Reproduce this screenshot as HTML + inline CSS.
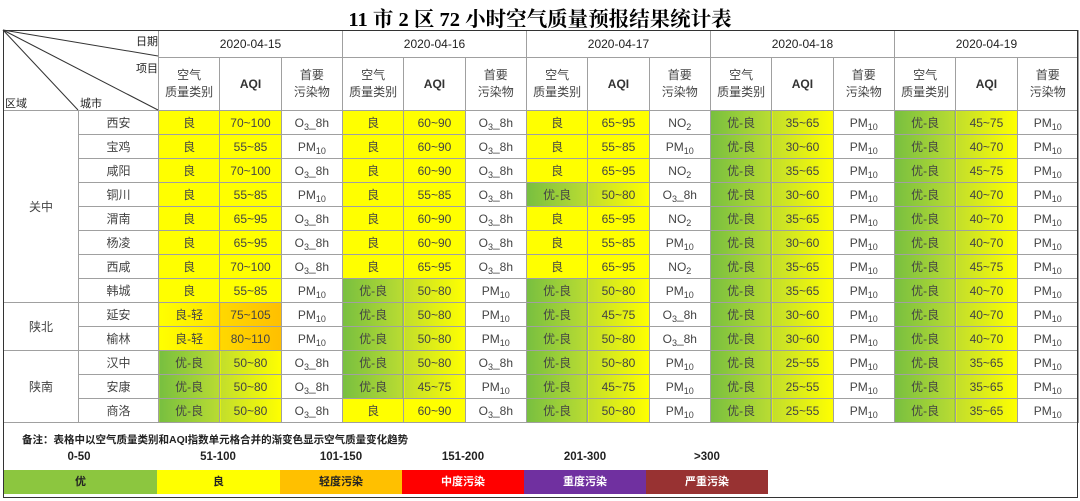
<!DOCTYPE html>
<html><head><meta charset="utf-8"><style>
body{margin:0;width:1080px;height:501px;background:#fff;position:relative;overflow:hidden;font-family:"Liberation Sans","Noto Sans CJK SC",sans-serif;}
.title{position:absolute;left:0;width:1080px;top:2px;text-align:center;font:bold 20.5px "Liberation Serif","Noto Serif CJK SC",serif;color:#000;}
table{position:absolute;left:3px;top:30px;border-collapse:collapse;table-layout:fixed;width:1075px;}
td{border:1px solid #a0a0a0;text-align:center;font-size:12px;color:#444;padding:0;overflow:hidden;white-space:nowrap;}
tr.d td{height:23px;}
.h1 td{height:26px;font-size:12px;color:#222;}
.h2 td{height:52px;font-size:12px;line-height:17px;color:#444;}
.h2 td.aq{font-size:12px;font-weight:bold;color:#333}
.y{background:#ffff00;}
.g1{background:linear-gradient(90deg,#78bf40,#b9dc32);}
.g2{background:linear-gradient(90deg,#c2de2c,#ffff00);}
.o1{background:linear-gradient(90deg,#ffff00,#ffe400);}
.o2{background:linear-gradient(90deg,#ffd800,#ffbf00);}
sub{font-size:9px;vertical-align:-3px;line-height:0;}
.note{position:absolute;left:22px;top:432px;font-size:10.5px;font-weight:bold;color:#222;}
.lab{position:absolute;top:451px;font-size:11.5px;font-weight:bold;color:#222;text-align:center;width:122px;}
.leg{position:absolute;top:470px;height:24px;line-height:24px;text-align:center;font-size:11px;font-weight:bold;}
</style></head><body>
<div class="title">11 市 2 区 72 小时空气质量预报结果统计表</div>
<table>
<colgroup><col style="width:75px"><col style="width:80px"><col span="15" style="width:61.33px"></colgroup>
<tr class="h1"><td colspan="2" rowspan="2" style="position:relative;border-bottom:1px solid #a0a0a0"></td><td colspan="3">2020-04-15</td><td colspan="3">2020-04-16</td><td colspan="3">2020-04-17</td><td colspan="3">2020-04-18</td><td colspan="3">2020-04-19</td></tr>
<tr class="h2"><td>空气<br>质量类别</td><td class="aq">AQI</td><td>首要<br>污染物</td><td>空气<br>质量类别</td><td class="aq">AQI</td><td>首要<br>污染物</td><td>空气<br>质量类别</td><td class="aq">AQI</td><td>首要<br>污染物</td><td>空气<br>质量类别</td><td class="aq">AQI</td><td>首要<br>污染物</td><td>空气<br>质量类别</td><td class="aq">AQI</td><td>首要<br>污染物</td></tr>
<tr class="d"><td rowspan="8">关中</td><td>西安</td><td class="y">良</td><td class="y">70~100</td><td>O<sub>3</sub>_8h</td><td class="y">良</td><td class="y">60~90</td><td>O<sub>3</sub>_8h</td><td class="y">良</td><td class="y">65~95</td><td>NO<sub>2</sub></td><td class="g1">优-良</td><td class="g2">35~65</td><td>PM<sub>10</sub></td><td class="g1">优-良</td><td class="g2">45~75</td><td>PM<sub>10</sub></td></tr>
<tr class="d"><td>宝鸡</td><td class="y">良</td><td class="y">55~85</td><td>PM<sub>10</sub></td><td class="y">良</td><td class="y">60~90</td><td>O<sub>3</sub>_8h</td><td class="y">良</td><td class="y">55~85</td><td>PM<sub>10</sub></td><td class="g1">优-良</td><td class="g2">30~60</td><td>PM<sub>10</sub></td><td class="g1">优-良</td><td class="g2">40~70</td><td>PM<sub>10</sub></td></tr>
<tr class="d"><td>咸阳</td><td class="y">良</td><td class="y">70~100</td><td>O<sub>3</sub>_8h</td><td class="y">良</td><td class="y">60~90</td><td>O<sub>3</sub>_8h</td><td class="y">良</td><td class="y">65~95</td><td>NO<sub>2</sub></td><td class="g1">优-良</td><td class="g2">35~65</td><td>PM<sub>10</sub></td><td class="g1">优-良</td><td class="g2">45~75</td><td>PM<sub>10</sub></td></tr>
<tr class="d"><td>铜川</td><td class="y">良</td><td class="y">55~85</td><td>PM<sub>10</sub></td><td class="y">良</td><td class="y">55~85</td><td>O<sub>3</sub>_8h</td><td class="g1">优-良</td><td class="g2">50~80</td><td>O<sub>3</sub>_8h</td><td class="g1">优-良</td><td class="g2">30~60</td><td>PM<sub>10</sub></td><td class="g1">优-良</td><td class="g2">40~70</td><td>PM<sub>10</sub></td></tr>
<tr class="d"><td>渭南</td><td class="y">良</td><td class="y">65~95</td><td>O<sub>3</sub>_8h</td><td class="y">良</td><td class="y">60~90</td><td>O<sub>3</sub>_8h</td><td class="y">良</td><td class="y">65~95</td><td>NO<sub>2</sub></td><td class="g1">优-良</td><td class="g2">35~65</td><td>PM<sub>10</sub></td><td class="g1">优-良</td><td class="g2">40~70</td><td>PM<sub>10</sub></td></tr>
<tr class="d"><td>杨凌</td><td class="y">良</td><td class="y">65~95</td><td>O<sub>3</sub>_8h</td><td class="y">良</td><td class="y">60~90</td><td>O<sub>3</sub>_8h</td><td class="y">良</td><td class="y">55~85</td><td>PM<sub>10</sub></td><td class="g1">优-良</td><td class="g2">30~60</td><td>PM<sub>10</sub></td><td class="g1">优-良</td><td class="g2">40~70</td><td>PM<sub>10</sub></td></tr>
<tr class="d"><td>西咸</td><td class="y">良</td><td class="y">70~100</td><td>O<sub>3</sub>_8h</td><td class="y">良</td><td class="y">65~95</td><td>O<sub>3</sub>_8h</td><td class="y">良</td><td class="y">65~95</td><td>NO<sub>2</sub></td><td class="g1">优-良</td><td class="g2">35~65</td><td>PM<sub>10</sub></td><td class="g1">优-良</td><td class="g2">45~75</td><td>PM<sub>10</sub></td></tr>
<tr class="d"><td>韩城</td><td class="y">良</td><td class="y">55~85</td><td>PM<sub>10</sub></td><td class="g1">优-良</td><td class="g2">50~80</td><td>PM<sub>10</sub></td><td class="g1">优-良</td><td class="g2">50~80</td><td>PM<sub>10</sub></td><td class="g1">优-良</td><td class="g2">35~65</td><td>PM<sub>10</sub></td><td class="g1">优-良</td><td class="g2">40~70</td><td>PM<sub>10</sub></td></tr>
<tr class="d"><td rowspan="2">陕北</td><td>延安</td><td class="o1">良-轻</td><td class="o2">75~105</td><td>PM<sub>10</sub></td><td class="g1">优-良</td><td class="g2">50~80</td><td>PM<sub>10</sub></td><td class="g1">优-良</td><td class="g2">45~75</td><td>O<sub>3</sub>_8h</td><td class="g1">优-良</td><td class="g2">30~60</td><td>PM<sub>10</sub></td><td class="g1">优-良</td><td class="g2">40~70</td><td>PM<sub>10</sub></td></tr>
<tr class="d"><td>榆林</td><td class="o1">良-轻</td><td class="o2">80~110</td><td>PM<sub>10</sub></td><td class="g1">优-良</td><td class="g2">50~80</td><td>PM<sub>10</sub></td><td class="g1">优-良</td><td class="g2">50~80</td><td>O<sub>3</sub>_8h</td><td class="g1">优-良</td><td class="g2">30~60</td><td>PM<sub>10</sub></td><td class="g1">优-良</td><td class="g2">40~70</td><td>PM<sub>10</sub></td></tr>
<tr class="d"><td rowspan="3">陕南</td><td>汉中</td><td class="g1">优-良</td><td class="g2">50~80</td><td>O<sub>3</sub>_8h</td><td class="g1">优-良</td><td class="g2">50~80</td><td>O<sub>3</sub>_8h</td><td class="g1">优-良</td><td class="g2">50~80</td><td>PM<sub>10</sub></td><td class="g1">优-良</td><td class="g2">25~55</td><td>PM<sub>10</sub></td><td class="g1">优-良</td><td class="g2">35~65</td><td>PM<sub>10</sub></td></tr>
<tr class="d"><td>安康</td><td class="g1">优-良</td><td class="g2">50~80</td><td>O<sub>3</sub>_8h</td><td class="g1">优-良</td><td class="g2">45~75</td><td>PM<sub>10</sub></td><td class="g1">优-良</td><td class="g2">45~75</td><td>PM<sub>10</sub></td><td class="g1">优-良</td><td class="g2">25~55</td><td>PM<sub>10</sub></td><td class="g1">优-良</td><td class="g2">35~65</td><td>PM<sub>10</sub></td></tr>
<tr class="d"><td>商洛</td><td class="g1">优-良</td><td class="g2">50~80</td><td>O<sub>3</sub>_8h</td><td class="y">良</td><td class="y">60~90</td><td>O<sub>3</sub>_8h</td><td class="g1">优-良</td><td class="g2">50~80</td><td>PM<sub>10</sub></td><td class="g1">优-良</td><td class="g2">25~55</td><td>PM<sub>10</sub></td><td class="g1">优-良</td><td class="g2">35~65</td><td>PM<sub>10</sub></td></tr>
</table>
<svg style="position:absolute;left:0;top:0" width="1080" height="501">
<g stroke="#333" stroke-width="1" fill="none">
<line x1="3" y1="30" x2="158" y2="56"/>
<line x1="3" y1="30" x2="158" y2="110"/>
<line x1="3" y1="30" x2="78" y2="110"/>
<rect x="3.5" y="30.5" width="1074" height="467"/>
</g>
</svg>
<div style="position:absolute;left:136px;top:33px;font-size:11px;color:#222">日期</div>
<div style="position:absolute;left:136px;top:60px;font-size:11px;color:#222">项目</div>
<div style="position:absolute;left:5px;top:95px;font-size:11px;color:#222">区域</div>
<div style="position:absolute;left:80px;top:95px;font-size:11px;color:#222">城市</div>
<div class="note">备注：表格中以空气质量类别和AQI指数单元格合并的渐变色显示空气质量变化趋势</div>
<div class="lab" style="left:18px">0-50</div>
<div class="lab" style="left:157px">51-100</div>
<div class="lab" style="left:280px">101-150</div>
<div class="lab" style="left:402px">151-200</div>
<div class="lab" style="left:524px">201-300</div>
<div class="lab" style="left:646px">&gt;300</div>
<div class="leg" style="left:4px;width:153px;background:#8cc63f;color:#222">优</div>
<div class="leg" style="left:157px;width:123px;background:#ffff00;color:#222">良</div>
<div class="leg" style="left:280px;width:122px;background:#ffc000;color:#222">轻度污染</div>
<div class="leg" style="left:402px;width:122px;background:#ff0000;color:#fff">中度污染</div>
<div class="leg" style="left:524px;width:122px;background:#7030a0;color:#fff">重度污染</div>
<div class="leg" style="left:646px;width:122px;background:#983232;color:#fff">严重污染</div>
</body></html>
